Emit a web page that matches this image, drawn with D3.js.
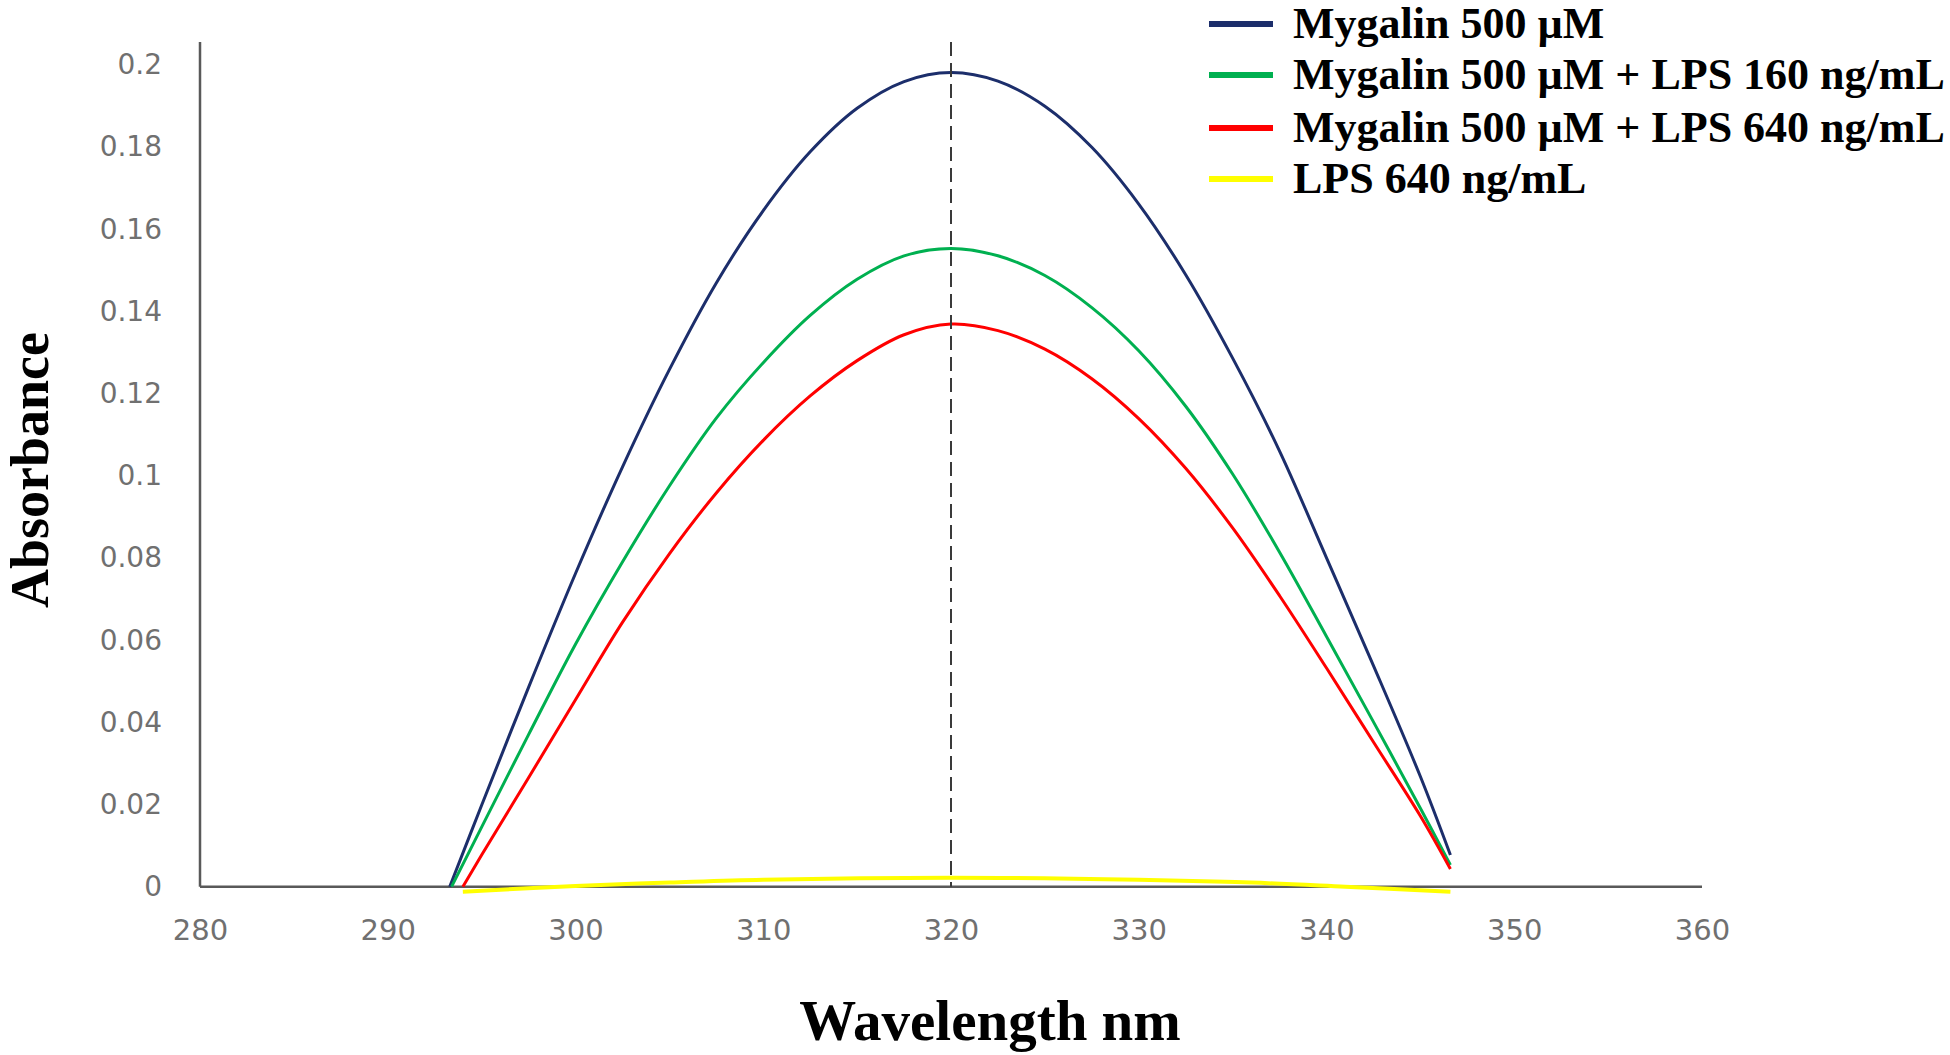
<!DOCTYPE html>
<html><head><meta charset="utf-8">
<script src="https://cdn.jsdelivr.net/npm/d3@7"></script>
<style>html,body{margin:0;padding:0;background:#fff;}svg{display:block;}</style>
</head><body>
<svg id="chart" width="1950" height="1055"></svg>
<script>
// ---- data ----
const seriesNames = ["Mygalin 500 µM", "Mygalin 500 µM + LPS 160 ng/mL", "Mygalin 500 µM + LPS 640 ng/mL", "LPS 640 ng/mL"];
const seriesColors = ["#1c2e6b", "#00b050", "#ff0000", "#ffff00"];

const blueX = [293.3, 295, 297.5, 300, 302.5, 305, 307.5, 310, 312.5, 315, 317.5, 320, 322.5, 325, 327.5, 330, 332.5, 335, 337.5, 340, 342.5, 345, 346.6];
const blueY = [0.0, 0.0198, 0.0485, 0.0762, 0.1021, 0.1258, 0.1469, 0.1645, 0.1788, 0.1894, 0.1959, 0.1981, 0.196, 0.1899, 0.1799, 0.1661, 0.1489, 0.1286, 0.106, 0.080, 0.0538, 0.0268, 0.0077];

const greenX = [293.4, 295, 297.5, 300, 302.5, 305, 307.5, 310, 312.5, 315, 317.5, 320, 322.5, 325, 327.5, 330, 332.5, 335, 337.5, 340, 342.5, 345, 346.6];
const greenY = [0.0, 0.0145, 0.037, 0.059, 0.079, 0.0975, 0.114, 0.1275, 0.139, 0.1478, 0.1535, 0.1553, 0.1535, 0.1487, 0.1409, 0.1304, 0.1169, 0.1004, 0.0814, 0.0609, 0.0401, 0.0191, 0.0053];

const redX = [294.0, 295, 297.5, 300, 302.5, 305, 307.5, 310, 312.5, 315, 317.5, 320, 322.5, 325, 327.5, 330, 332.5, 335, 337.5, 340, 342.5, 345, 346.6];
const redY = [0.0, 0.0077, 0.0265, 0.0455, 0.0643, 0.081, 0.0958, 0.1086, 0.1194, 0.128, 0.1343, 0.1369, 0.1353, 0.1308, 0.1236, 0.1139, 0.1018, 0.0873, 0.0708, 0.0532, 0.0352, 0.0172, 0.0043];

const yellowX = [294.0, 300, 305, 310, 320, 330, 336, 341, 346.6];
const yellowY = [-0.0012, 0.0002, 0.001, 0.0017, 0.0022, 0.0017, 0.001, 0.0, -0.0012];

const xTicks = [280, 290, 300, 310, 320, 330, 340, 350, 360];
const yTicks = [0, 0.02, 0.04, 0.06, 0.08, 0.1, 0.12, 0.14, 0.16, 0.18, 0.2];
const yTickLabels = ["0", "0.02", "0.04", "0.06", "0.08", "0.1", "0.12", "0.14", "0.16", "0.18", "0.2"];
const peakWavelength = 320;
const xTitle = "Wavelength nm";
const yTitle = "Absorbance";

// ---- drawing ----
const svg = d3.select("#chart");
svg.append("rect").attr("width", 1950).attr("height", 1055).attr("fill", "#fff");

const x = d3.scaleLinear().domain([280, 360]).range([200, 1702]);
const y = d3.scaleLinear().domain([0, 0.2]).range([886.7, 64.7]);
const axisColor = "#595959";
const tickFont = "'DejaVu Sans', 'Open Sans', sans-serif";

// y axis labels
const gy = svg.append("g").attr("transform", `translate(${x(280)},0)`)
  .call(d3.axisLeft(y).tickValues(yTicks).tickFormat((d, i) => yTickLabels[i]).tickSize(0).tickPadding(38));
gy.select(".domain").remove();
gy.selectAll("text").attr("font-family", tickFont).attr("font-size", 28).attr("fill", "#707070");

// x axis labels
const gx = svg.append("g").attr("transform", `translate(0,${y(0)})`)
  .call(d3.axisBottom(x).tickValues(xTicks).tickFormat(d3.format("d")).tickSize(0).tickPadding(33));
gx.select(".domain").remove();
gx.selectAll("text").attr("font-family", tickFont).attr("font-size", 29).attr("fill", "#707070");

// axis lines
svg.append("line").attr("x1", x(280)).attr("x2", x(280)).attr("y1", 42).attr("y2", y(0))
  .attr("stroke", axisColor).attr("stroke-width", 2.5);
svg.append("line").attr("x1", x(280)).attr("x2", x(360)).attr("y1", y(0)).attr("y2", y(0))
  .attr("stroke", axisColor).attr("stroke-width", 2.5);

const seriesX = [blueX, greenX, redX, yellowX];
const seriesY = [blueY, greenY, redY, yellowY];
const seriesWidth = [3, 3, 3, 4];

const line = d3.line().x(d => x(d[0])).y(d => y(d[1])).curve(d3.curveCatmullRom.alpha(0.5));

seriesX.forEach((xs, i) => {
  const d = xs.map((v, j) => [v, seriesY[i][j]]);
  svg.append("path").datum(d).attr("d", line).attr("fill", "none")
    .attr("stroke", seriesColors[i]).attr("stroke-width", seriesWidth[i]).attr("stroke-linejoin", "round");
});

// dashed peak marker
svg.append("line").attr("x1", x(peakWavelength)).attr("x2", x(peakWavelength)).attr("y1", 42).attr("y2", y(0))
  .attr("stroke", "#3a3a3a").attr("stroke-width", 2).attr("stroke-dasharray", "14,7");

// axis titles
const titleFont = "'Liberation Serif', 'Times New Roman', serif";
svg.append("text").attr("transform", "translate(48,470) rotate(-90)")
  .attr("text-anchor", "middle").attr("font-family", titleFont).attr("font-weight", "bold")
  .attr("font-size", 54).attr("fill", "#000").text(yTitle);
svg.append("text").attr("x", 990).attr("y", 1040)
  .attr("text-anchor", "middle").attr("font-family", titleFont).attr("font-weight", "bold")
  .attr("font-size", 57).attr("fill", "#000").text(xTitle);

// legend
const legendRowsY = [24, 75, 128, 179];
const lg = svg.append("g");
seriesNames.forEach((name, i) => {
  lg.append("line").attr("x1", 1209).attr("x2", 1273).attr("y1", legendRowsY[i]).attr("y2", legendRowsY[i])
    .attr("stroke", seriesColors[i]).attr("stroke-width", 6);
  lg.append("text").attr("x", 1293).attr("y", legendRowsY[i] + 14)
    .attr("font-family", titleFont).attr("font-weight", "bold").attr("font-size", 44)
    .attr("fill", "#000").text(name);
});
</script>
</body></html>
